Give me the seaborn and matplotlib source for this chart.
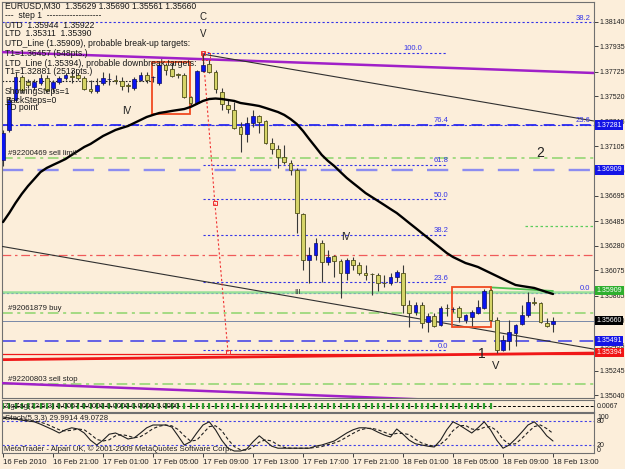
import numpy as np
import pandas as pd
import matplotlib
matplotlib.use('Agg')
import matplotlib.pyplot as plt
import matplotlib.transforms as mtransforms
from matplotlib.patches import Rectangle
from matplotlib import font_manager
import seaborn as sns

sns.set_theme(style='white')
_names = {f.name for f in font_manager.fontManager.ttflist}
FONT = 'Liberation Sans' if 'Liberation Sans' in _names else 'DejaVu Sans'
plt.rcParams['font.family'] = [FONT, 'DejaVu Sans']

# ---------------- data ----------------
opens = [1.36992, 1.37241, 1.37490, 1.37681, 1.37639, 1.37598, 1.37631, 1.37673, 1.37590, 1.37639,
         1.37673, 1.37689, 1.37698, 1.37673, 1.37581, 1.37565, 1.37631, 1.37664, 1.37656, 1.37648,
         1.37615, 1.37590, 1.37656, 1.37698, 1.37681, 1.37631, 1.37781, 1.37747, 1.37706, 1.37698,
         1.37515, 1.37465, 1.37731, 1.37789, 1.37722, 1.37556, 1.37449, 1.37407, 1.37266, 1.37208,
         1.37299, 1.37357, 1.37316, 1.37133, 1.37083, 1.37017, 1.36967, 1.36909, 1.36544, 1.36162,
         1.36204, 1.36303, 1.36145, 1.36195, 1.36154, 1.36054, 1.36162, 1.36121, 1.36054, 1.36046,
         1.36038, 1.35971, 1.35971, 1.36021, 1.36054, 1.35789, 1.35730, 1.35789, 1.35647, 1.35697,
         1.35623, 1.35764, 1.35755, 1.35764, 1.35664, 1.35689, 1.35722, 1.35764, 1.35913, 1.35664,
         1.35415, 1.35490, 1.35556, 1.35631, 1.35706, 1.35813, 1.35805, 1.35639, 1.35629]
highs = [1.37241, 1.37515, 1.37722, 1.37698, 1.37664, 1.37664, 1.37706, 1.37698, 1.37656, 1.37689,
         1.37714, 1.37739, 1.37714, 1.37689, 1.37656, 1.37673, 1.37722, 1.37714, 1.37698, 1.37681,
         1.37631, 1.37681, 1.37722, 1.37722, 1.37689, 1.37797, 1.37797, 1.37797, 1.37714, 1.37714,
         1.37523, 1.37739, 1.37872, 1.37822, 1.37739, 1.37590, 1.37490, 1.37473, 1.37307, 1.37349,
         1.37407, 1.37366, 1.37324, 1.37175, 1.37117, 1.37117, 1.36992, 1.36926, 1.36552, 1.36270,
         1.36345, 1.36328, 1.36245, 1.36204, 1.36170, 1.36179, 1.36187, 1.36145, 1.36121, 1.36054,
         1.36054, 1.36038, 1.36054, 1.36079, 1.36121, 1.35830, 1.35813, 1.35813, 1.35722, 1.35722,
         1.35780, 1.35797, 1.35772, 1.35780, 1.35714, 1.35747, 1.35830, 1.35921, 1.35921, 1.35689,
         1.35540, 1.35664, 1.35631, 1.35789, 1.35896, 1.35855, 1.35813, 1.35681, 1.35690]
lows = [1.36942, 1.37224, 1.37473, 1.37548, 1.37590, 1.37573, 1.37615, 1.37556, 1.37556, 1.37623,
        1.37656, 1.37631, 1.37656, 1.37573, 1.37548, 1.37548, 1.37615, 1.37615, 1.37623, 1.37573,
        1.37556, 1.37573, 1.37648, 1.37631, 1.37639, 1.37615, 1.37698, 1.37681, 1.37673, 1.37507,
        1.37449, 1.37457, 1.37722, 1.37714, 1.37548, 1.37407, 1.37382, 1.37249, 1.37058, 1.37141,
        1.37266, 1.37216, 1.37125, 1.37042, 1.36926, 1.36959, 1.36868, 1.36386, 1.36079, 1.35971,
        1.36162, 1.35979, 1.36121, 1.36021, 1.35847, 1.35996, 1.36079, 1.36038, 1.35996, 1.35872,
        1.35905, 1.35938, 1.35955, 1.35979, 1.35722, 1.35606, 1.35706, 1.35598, 1.35564, 1.35606,
        1.35614, 1.35697, 1.35730, 1.35647, 1.35639, 1.35614, 1.35714, 1.35755, 1.35656, 1.35390,
        1.35407, 1.35415, 1.35448, 1.35623, 1.35689, 1.35789, 1.35639, 1.35606, 1.35561]
closes = [1.37216, 1.37490, 1.37681, 1.37573, 1.37615, 1.37639, 1.37673, 1.37573, 1.37639, 1.37673,
          1.37698, 1.37681, 1.37673, 1.37581, 1.37565, 1.37615, 1.37673, 1.37666, 1.37648, 1.37606,
          1.37606, 1.37664, 1.37698, 1.37656, 1.37683, 1.37781, 1.37739, 1.37689, 1.37698, 1.37515,
          1.37465, 1.37731, 1.37781, 1.37722, 1.37581, 1.37457, 1.37415, 1.37258, 1.37208, 1.37299,
          1.37357, 1.37307, 1.37133, 1.37083, 1.37017, 1.36975, 1.36909, 1.36552, 1.36162, 1.36204,
          1.36303, 1.36145, 1.36187, 1.36154, 1.36054, 1.36162, 1.36121, 1.36054, 1.36038, 1.36043,
          1.35971, 1.35968, 1.36021, 1.36062, 1.35789, 1.35722, 1.35789, 1.35639, 1.35697, 1.35614,
          1.35764, 1.35762, 1.35757, 1.35689, 1.35706, 1.35730, 1.35772, 1.35905, 1.35664, 1.35415,
          1.35498, 1.35564, 1.35623, 1.35706, 1.35813, 1.35805, 1.35647, 1.35614, 1.35660]
ma_values = [1.36477, 1.36552, 1.36635, 1.36710, 1.36776, 1.36834, 1.36892, 1.36926, 1.36951, 1.36975,
             1.37000, 1.37034, 1.37067, 1.37100, 1.37125, 1.37158, 1.37191, 1.37216, 1.37241, 1.37258,
             1.37274, 1.37299, 1.37324, 1.37349, 1.37366, 1.37382, 1.37390, 1.37399, 1.37407, 1.37415,
             1.37432, 1.37457, 1.37482, 1.37498, 1.37502, 1.37498, 1.37490, 1.37482, 1.37465, 1.37457,
             1.37449, 1.37440, 1.37424, 1.37407, 1.37390, 1.37366, 1.37332, 1.37291, 1.37233, 1.37165,
             1.37100, 1.37034, 1.36984, 1.36942, 1.36892, 1.36843, 1.36801, 1.36760, 1.36718, 1.36685,
             1.36652, 1.36619, 1.36585, 1.36552, 1.36511, 1.36469, 1.36428, 1.36386, 1.36345, 1.36303,
             1.36262, 1.36220, 1.36187, 1.36162, 1.36137, 1.36121, 1.36104, 1.36079, 1.36054, 1.36029,
             1.36004, 1.35979, 1.35955, 1.35946, 1.35938, 1.35930, 1.35913, 1.35896, 1.35880]
stoch_main = [90, 87, 85, 82, 80, 78, 72, 65, 58, 50, 58, 63, 60, 50, 32, 20, 32, 47, 50, 43,
              35, 38, 50, 63, 70, 70, 70, 65, 43, 20, 28, 50, 70, 78, 58, 32, 12, 5, 5, 10,
              28, 43, 30, 17, 12, 12, 12, 12, 12, 12, 17, 20, 25, 30, 40, 50, 58, 63, 63, 60,
              52, 45, 40, 60, 47, 32, 23, 20, 17, 15, 32, 58, 78, 70, 60, 50, 63, 78, 58, 32,
              12, 20, 35, 52, 70, 78, 63, 43, 29.9914]
stoch_signal = [86, 87, 87, 85, 82, 80, 77, 72, 65, 58, 55, 57, 60, 58, 47, 34, 30, 33, 43, 46,
                43, 38, 41, 50, 61, 67, 70, 68, 59, 43, 30, 32, 49, 66, 68, 56, 34, 16, 8, 7,
                15, 27, 33, 30, 20, 14, 12, 12, 12, 12, 14, 16, 21, 25, 31, 40, 49, 57, 61, 62,
                58, 52, 46, 49, 49, 46, 34, 25, 20, 17, 22, 35, 56, 68, 69, 60, 58, 64, 66, 56,
                34, 22, 23, 36, 52, 66, 70, 61, 49.0728]

tick_bars = [0, 8, 16, 24, 32, 40, 48, 56, 64, 72, 80, 88]
time_labels = ['16 Feb 2010', '16 Feb 21:00', '17 Feb 01:00', '17 Feb 05:00', '17 Feb 09:00',
               '17 Feb 13:00', '17 Feb 17:00', '17 Feb 21:00', '18 Feb 01:00', '18 Feb 05:00',
               '18 Feb 09:00', '18 Feb 13:00']
price_ticks = [1.38140, 1.37935, 1.37725, 1.37520, 1.37315, 1.37105, 1.36900, 1.36695,
               1.36485, 1.36280, 1.36075, 1.35865, 1.35660, 1.35455, 1.35245, 1.35040]

fib1_prices = [1.38137, 1.37283, 1.35890]
fib1_labels = ['38.2', '23.6', '0.0']
fib2_prices = [1.37880, 1.37283, 1.36951, 1.36668, 1.36370, 1.35979, 1.35415]
fib2_labels = ['100.0', '76.4', '61.8', '50.0', '38.2', '23.6', '0.0']
fib2_bars = [32, 71]

order_prices = [1.37009, 1.35722, 1.35133]
order_labels = ['#92200469 sell limit', '#92061879 buy', '#92200803 sell stop']

box_prices = [1.37281, 1.36909, 1.35909, 1.35660, 1.35491, 1.35394]
box_colors = ['#1414E6', '#1414E6', '#2EAF2E', '#000000', '#1414E6', '#F01414']

red_dashdot_price = 1.36204
green_solid_price = 1.35895
green_dotted_price = 1.36444
bid_price = 1.35660

purple_top = ([-0.5, 94.5], [1.37888, 1.37714])
purple_bottom = ([-0.5, 94.5], [1.35141, 1.34950])
black_top = ([31.8, 94.5], [1.37872, 1.37316])
black_bottom = ([-0.5, 94.5], [1.36278, 1.35423])
ltd_line = ([-0.5, 94.5], [1.35335, 1.35390])
ltd_thin = 1.35382
utd_seg = ([78, 88], [1.35935, 1.35905])
red_path = ([32, 33.9, 36], [1.37880, 1.36635, 1.35398])

boxes_x0 = [23.84, 71.84]
boxes_x1 = [29.92, 78.08]
boxes_top = [1.37805, 1.35938]
boxes_bot = [1.37374, 1.35606]

info_lines = ['EURUSD,M30  1.35629 1.35690 1.35561 1.35660',
              '---  step 1  -------------------',
              'UTD  1.35944  1.35922',
              'LTD  1.35311  1.35390',
              'UTD_Line (1.35909), probable break-up targets:',
              'T1=1.36457 (548pts.)',
              'LTD_Line (1.35394), probable downbreak targets:',
              'T1=1.32881 (2513pts.)',
              'ShowingSteps=1',
              'BackSteps=0',
              'TD point']

# ---------------- figure ----------------
W, H = 625, 469
BG = '#FCEEDA'
fig = plt.figure(figsize=(W / 100, H / 100), dpi=100)
fig.patch.set_facecolor(BG)


def rect(x0, y0, x1, y1):
    return [x0 / W, 1 - y1 / H, (x1 - x0) / W, (y1 - y0) / H]


def fxy(x, y):
    return x / W, 1 - y / H


ax = fig.add_axes(rect(2, 2, 594, 398))
ax1 = fig.add_axes(rect(2, 400, 594, 412))
ax2 = fig.add_axes(rect(2, 413, 594, 453))
XL = (-0.16, 94.56)
for a in (ax, ax1, ax2):
    a.set_facecolor(BG)
    a.set_xlim(*XL)
    a.set_xticks([])
    for s in a.spines.values():
        s.set_color('#707070')
        s.set_linewidth(0.8)
ax.set_ylim(1.35017, 1.38303)

n = len(opens)
idx = np.arange(n)
o = np.array(opens); c = np.array(closes); h = np.array(highs); l = np.array(lows)

# horizontal levels (full width)
full = XL
dashdot = (0, (7, 3, 2, 3))
for p in fib1_prices:
    ax.plot(full, [p, p], color='#3434E8', lw=0.8, ls=(0, (2, 2)), zorder=2)
ax.plot(full, [box_prices[0]] * 2, color='#2A2AF0', lw=1.3, ls=(0, (6, 4)), zorder=2)
ax.plot(full, [box_prices[1]] * 2, color='#8C8CF0', lw=1.7, ls=(0, (9, 6)), zorder=2)
ax.plot(full, [box_prices[4]] * 2, color='#3A3AE8', lw=1.1, ls=(0, (9, 5)), zorder=2)
ax.plot(full, [red_dashdot_price] * 2, color='#F05A5A', lw=0.9, ls=dashdot, zorder=2)
for p in order_prices:
    ax.plot(full, [p, p], color='#8CD46C', lw=1.1, ls=dashdot, zorder=2)
ax.plot([83.5, XL[1]], [green_dotted_price] * 2, color='#5CCC5C', lw=0.9, ls=(0, (2, 2)), zorder=2)
ax.plot(full, [green_solid_price] * 2, color='#98E098', lw=1.8, zorder=2)
ax.plot(*utd_seg, color='#50C050', lw=1.3, zorder=2)
ax.plot(full, [bid_price] * 2, color='#7888A8', lw=0.7, zorder=2)
ax.plot(full, [ltd_thin] * 2, color='#F01818', lw=0.9, zorder=2)
ax.plot(*ltd_line, color='#F01818', lw=2.0, zorder=2)
ax.plot([XL[0], 24], [1.37648] * 2, color='#202020', lw=0.8, ls=(0, (1.5, 1.5)), zorder=2)

# fib 2 (limited span)
for p, lab in zip(fib2_prices, fib2_labels):
    ax.plot(fib2_bars, [p, p], color='#3434E8', lw=0.8, ls=(0, (2, 2)), zorder=2)
    xr = 67.0 if lab == '100.0' else 71.3
    ax.text(xr, p + 0.00004, lab, color='#3434E8', fontsize=5.5, ha='right', va='bottom', zorder=6)
for p, lab in zip(fib1_prices, fib1_labels):
    ax.text(94.0, p + 0.00004, lab, color='#3434E8', fontsize=5.5, ha='right', va='bottom', zorder=6)

# channel / trend lines
ax.plot(*purple_top, color='#A020C8', lw=1.8, zorder=3)
ax.plot(*purple_bottom, color='#A020C8', lw=1.8, zorder=3)
ax.plot(*black_top, color='#303030', lw=0.8, zorder=3)
ax.plot(*black_bottom, color='#303030', lw=0.8, zorder=3)
ax.plot(*red_path, color='#F03030', lw=0.8, ls=(0, (2, 2)), marker='s', ms=2.5,
        mfc='none', mec='#F03030', mew=0.7, zorder=3)
ax.add_patch(Rectangle((31.8, 1.37822), 1.3, 0.00066, fill=False, ec='#F03030', lw=0.7,
                       ls=(0, (2, 1.5)), zorder=3))
for x0, x1, t, b in zip(boxes_x0, boxes_x1, boxes_top, boxes_bot):
    ax.add_patch(Rectangle((x0, b), x1 - x0, t - b, fill=False, ec='#F04A20', lw=1.3, zorder=3))

# candles
ax.vlines(idx, l, h, color='#383838', lw=0.8, zorder=4)
bull = c >= o
body_h = np.maximum(np.abs(c - o), 0.00002)
body_b = np.minimum(o, c)
ax.bar(idx[bull], body_h[bull], bottom=body_b[bull], width=0.62, color='#0A14F0',
       edgecolor='#101060', linewidth=0.5, zorder=5)
ax.bar(idx[~bull], body_h[~bull], bottom=body_b[~bull], width=0.62, color='#D6D468',
       edgecolor='#505018', linewidth=0.6, zorder=5)

# moving average
df_ma = pd.DataFrame({'bar': idx, 'ma': ma_values})
sns.lineplot(data=df_ma, x='bar', y='ma', ax=ax, color='black', lw=1.7, zorder=6)
ax.set_xlabel(''); ax.set_ylabel('')

# right axis price labels
LBL = 5.0
ax.yaxis.tick_right()
ax.set_yticks(price_ticks)
ax.set_yticklabels([f'{p:.5f}' for p in price_ticks], fontsize=LBL, color='#202020')
ax.tick_params(axis='y', length=3, pad=1.2, color='#404040', width=0.7, right=True, direction='out')
tr = mtransforms.blended_transform_factory(ax.transAxes, ax.transData)
for p, col in zip(box_prices, box_colors):
    ax.text(1.0045, p, f'{p:.5f}', transform=tr, fontsize=LBL, color='white', ha='left',
            va='center', bbox=dict(boxstyle='square,pad=0.18', fc=col, ec='none'),
            clip_on=False, zorder=10)

# in-chart labels
for p, lab in zip(order_prices, order_labels):
    ax.text(0.8, p + 0.00005, lab, fontsize=5.6, color='#202020', ha='left', va='bottom', zorder=7)
for k, line in enumerate(info_lines):
    ys = [6, 16, 25, 34, 43, 53, 63, 72, 91, 100, 108][k]
    fig.text(*fxy(5, ys), line, fontsize=6.2, color='#181818', ha='left', va='center')
for (x, y, s, fs) in [(203, 17, 'C', 7), (203, 34, 'V', 7), (127, 111, 'IV', 7),
                      (346, 237, 'IV', 7), (297, 292, 'III', 5.5), (540, 153, '2', 10),
                      (482, 354, '1', 10), (496, 366, 'V', 8)]:
    fig.text(*fxy(x, y), s, fontsize=fs, color='#202020', ha='center', va='center')

# sub panel 1 (small indicator)
ax1.set_ylim(0, 1)
ax1.set_yticks([])
ax1.plot(XL, [0.5, 0.5], color='black', lw=0.7, ls=(0, (3, 2)))
ax1.vlines(idx[:79], 0.25, 0.75, color='#2E9E2E', lw=1.6)
fig.text(*fxy(4, 406), 'ZigZag(12,5,3) 0.0067 0.0000 0.0000 0.0000 0.0000', fontsize=5.5,
         color='#202020', ha='left', va='center')
fig.text(*fxy(597, 406), '0.0067', fontsize=LBL, color='#202020', ha='left', va='center')

# stochastic panel
ax2.set_ylim(0, 100)
ax2.set_yticks([])
for v in (80, 20):
    ax2.plot(XL, [v, v], color='#4040E8', lw=0.8, ls=(0, (2, 2)))
df_st = pd.DataFrame({'bar': idx, 'main': stoch_main, 'signal': stoch_signal})
sns.lineplot(data=df_st, x='bar', y='main', ax=ax2, color='#202020', lw=0.8)
sns.lineplot(data=df_st, x='bar', y='signal', ax=ax2, color='#202020', lw=0.8, ls=(0, (3, 2)))
ax2.set_xlabel(''); ax2.set_ylabel('')
fig.text(*fxy(5, 418), 'Stoch(5,3,3) 29.9914 49.0728', fontsize=5.6, color='#202020',
         ha='left', va='center')
fig.text(*fxy(4, 449), 'MetaTrader - Alpari UK, \u00a9 2001-2009 MetaQuotes Software Corp.',
         fontsize=5.6, color='#202020', ha='left', va='center')
for y, s in [(417, '100'), (421, '80'), (445, '20'), (450, '0')]:
    fig.text(*fxy(597, y), s, fontsize=LBL, color='#202020', ha='left', va='center')

# time axis
ax2.set_xticks(tick_bars)
ax2.set_xticklabels(time_labels, fontsize=5.6, ha='left', color='#202020')
ax2.tick_params(axis='x', length=3, pad=1, color='#404040', width=0.7, bottom=True, direction='out')

fig.savefig('out.png', dpi=100, facecolor=BG)
